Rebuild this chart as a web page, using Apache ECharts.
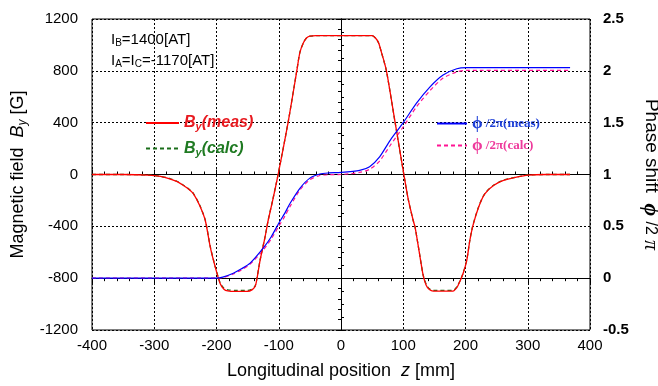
<!DOCTYPE html>
<html>
<head>
<meta charset="utf-8">
<script src="https://cdn.jsdelivr.net/npm/echarts@6/dist/echarts.min.js"></script>
<style>
  html, body { margin: 0; padding: 0; background: #fff; }
  #chart { width: 658px; height: 386px; }
</style>
</head>
<body>
<div id="chart"></div>
<script>
// field profile B_y [G] vs z [mm]
const zField = [-400, -350, -310, -290, -275, -263, -253, -245, -237, -227, -218, -210, -202, -194, -188, -182, -170, -150, -143, -138,
  -135, -130, -122, -117, -110, -101, -85, -71, -66, -60, -55, -50, -40, 50, 55, 60, 65, 73, 87, 101,
  108, 116, 119, 127, 132, 137, 142, 148, 180, 184, 188, 196, 202, 207, 212, 221, 231, 245, 261, 282, 300, 330, 368]
const byMeas = [0, 0, -5, -15, -33, -55, -85, -112, -149, -239, -355, -560, -714, -843, -885, -898, -902, -902, -890, -865,
  -804, -663, -483, -355, -205, 0, 400, 800, 943, 1020, 1055, 1068, 1072, 1072, 1055, 1020, 943, 800, 400, 0,
  -190, -355, -406, -637, -779, -856, -888, -900, -900, -885, -856, -766, -663, -509, -393, -252, -149, -85, -46, -21, -5, 0, 0]
const byCalc = [0, 0, -4, -14, -31, -54, -83, -110, -147, -236, -352, -556, -712, -838, -878, -890, -895, -895, -884, -860,
  -800, -660, -480, -352, -203, 2, 402, 802, 944, 1021, 1056, 1068, 1071, 1071, 1054, 1019, 941, 798, 398, -2,
  -192, -356, -407, -636, -776, -850, -882, -894, -894, -880, -852, -763, -660, -506, -390, -250, -147, -83, -44, -20, -4, 0, 0]

// phase shift phi/2pi
const zPhase = [-400, -200, -190, -173, -160, -146, -125, -112, -100, -90, -82, -66, -50, -34, -20, 0, 30, 46, 62, 79,
  100, 121, 143, 164, 186, 202, 368]
const phaseMeas = [0, 0, 0.01, 0.048, 0.09, 0.145, 0.29, 0.40, 0.53, 0.63, 0.72, 0.867, 0.965, 1.005, 1.015, 1.02, 1.04, 1.075, 1.17, 1.33,
  1.50, 1.686, 1.846, 1.96, 2.02, 2.03, 2.03]
const phaseCalc = [0, 0, 0.005, 0.04, 0.08, 0.135, 0.27, 0.38, 0.50, 0.60, 0.69, 0.85, 0.95, 0.99, 0.998, 1.0, 1.02, 1.05, 1.13, 1.28,
  1.46, 1.65, 1.81, 1.93, 1.99, 2.005, 2.005]

const FONT = 'Liberation Sans'
const pairs = (xs, ys) => xs.map((x, i) => [x, ys[i]])

const chart = echarts.init(document.getElementById('chart'))
const dotted = { color: '#000', type: [2, 2], width: 1, opacity: 1 }
const tickIn = (len) => ({ show: true, inside: true, length: len, lineStyle: { color: '#000', width: 1 } })

const option = {
  animation: false,
  grid: {
    left: 92, right: 68, top: 19, bottom: 56, show: true, borderColor: '#000', borderWidth: 1,
    containLabel: false, outerBoundsMode: 'none'
  },
  xAxis: [
    {
      type: 'value', min: -400, max: 400, interval: 100, position: 'bottom',
      axisLine: { show: true, lineStyle: { color: '#000', width: 1 } },
      axisTick: tickIn(5),
      minorTick: { show: true, splitNumber: 5, length: 3, lineStyle: { color: '#000' } },
      splitLine: { show: true, lineStyle: dotted },
      axisLabel: { color: '#000', fontFamily: FONT, fontSize: 15, margin: 8, formatter: (v) => String(v) },
      name: 'Longitudinal position  {i|z} [mm]',
      nameLocation: 'middle', nameGap: 32,
      nameTextStyle: { color: '#000', fontFamily: FONT, fontSize: 18, rich: { i: { fontStyle: 'italic', fontFamily: FONT, fontSize: 18 } } }
    },
    {
      type: 'value', min: -400, max: 400, interval: 100, position: 'top',
      axisLine: { show: true, lineStyle: { color: '#000' } },
      axisTick: tickIn(5),
      minorTick: { show: true, splitNumber: 5, length: 3, lineStyle: { color: '#000' } },
      splitLine: { show: false }, axisLabel: { show: false }
    }
  ],
  yAxis: [
    {
      type: 'value', min: -1200, max: 1200, interval: 400, position: 'left',
      axisLine: { show: true, lineStyle: { color: '#000' } },
      axisTick: tickIn(5),
      minorTick: { show: true, splitNumber: 4, length: 3, lineStyle: { color: '#000' } },
      splitLine: { show: true, lineStyle: dotted },
      axisLabel: { color: '#000', fontFamily: FONT, fontSize: 15, margin: 14, formatter: (v) => String(v) },
      name: 'Magnetic field  {i|B}{s|y} [G]',
      nameLocation: 'middle', nameGap: 52, nameRotate: 90,
      nameTextStyle: {
        color: '#000', fontFamily: FONT, fontSize: 18,
        rich: {
          i: { fontStyle: 'italic', fontFamily: FONT, fontSize: 18 },
          s: { fontStyle: 'italic', fontFamily: FONT, fontSize: 12, padding: [9, 0, 0, 0] }
        }
      }
    },
    {
      type: 'value', min: -0.5, max: 2.5, interval: 0.5, position: 'right',
      axisLine: { show: true, lineStyle: { color: '#000' } },
      axisTick: tickIn(5),
      minorTick: { show: true, splitNumber: 5, length: 3, lineStyle: { color: '#000' } },
      splitLine: { show: false },
      axisLabel: { color: '#000', fontFamily: FONT, fontSize: 15, fontWeight: 'bold', margin: 13 },
      name: 'Phase shift  {p|ϕ} {n|/2} {q|π}',
      nameLocation: 'middle', nameGap: 46, nameRotate: -90,
      nameTextStyle: {
        color: '#000', fontFamily: FONT, fontSize: 19,
        rich: {
          p: { fontFamily: 'Liberation Serif', fontStyle: 'italic', fontWeight: 'bold', fontSize: 22 },
          n: { fontFamily: FONT, fontSize: 16 },
          q: { fontFamily: 'Liberation Serif', fontStyle: 'italic', fontSize: 20 }
        }
      }
    }
  ],
  legend: [
    {
      data: ['By(meas)', 'By(calc)'],
      orient: 'vertical', left: 145, top: 115, padding: 0, itemWidth: 33, itemHeight: 14, itemGap: 8,
      itemStyle: { opacity: 0 },
      formatter: (n) => n === 'By(meas)' ? '{r|B}{rs|y}{r|(meas)}' : '{g|B}{gs|y}{g|(calc)}',
      textStyle: {
        rich: {
          r: { color: '#e8191f', fontFamily: FONT, fontStyle: 'italic', fontWeight: 'bold', fontSize: 16 },
          rs: { color: '#e8191f', fontFamily: FONT, fontStyle: 'italic', fontWeight: 'bold', fontSize: 11, padding: [8, 0, 0, 0] },
          g: { color: '#1f7a22', fontFamily: FONT, fontStyle: 'italic', fontWeight: 'bold', fontSize: 16 },
          gs: { color: '#1f7a22', fontFamily: FONT, fontStyle: 'italic', fontWeight: 'bold', fontSize: 11, padding: [8, 0, 0, 0] }
        }
      }
    },
    {
      data: ['phi/2pi(meas)', 'phi/2pi(calc)'],
      orient: 'vertical', left: 436, top: 115, padding: 0, itemWidth: 30, itemHeight: 14, itemGap: 5,
      itemStyle: { opacity: 0 },
      formatter: (n) => n === 'phi/2pi(meas)' ? '{bp|ϕ}{b| /2π(meas)}' : '{mp|ϕ}{m| /2π(calc)}',
      textStyle: {
        rich: {
          bp: { color: '#1c3ed8', fontFamily: 'Liberation Serif', fontWeight: 'bold', fontSize: 17 },
          b: { color: '#1c3ed8', fontFamily: 'Liberation Serif', fontWeight: 'bold', fontSize: 13 },
          mp: { color: '#ee3a9c', fontFamily: 'Liberation Serif', fontWeight: 'bold', fontSize: 17 },
          m: { color: '#ee3a9c', fontFamily: 'Liberation Serif', fontWeight: 'bold', fontSize: 13 }
        }
      }
    }
  ],
  graphic: [
    {
      type: 'text', left: 111, top: 32,
      style: {
        text: '{a|I}{s|B}{a|=1400[AT]}',
        rich: { a: { fontFamily: FONT, fontSize: 15, fill: '#000' }, s: { fontFamily: FONT, fontSize: 10, fill: '#000', padding: [7, 0, 0, 0] } }
      }
    },
    {
      type: 'text', left: 111, top: 53,
      style: {
        text: '{a|I}{s|A}{a|=I}{s|C}{a|=-1170[AT]}',
        rich: { a: { fontFamily: FONT, fontSize: 15, fill: '#000' }, s: { fontFamily: FONT, fontSize: 10, fill: '#000', padding: [7, 0, 0, 0] } }
      }
    }
  ],
  series: [
    {
      name: 'By(meas)', type: 'line', xAxisIndex: 0, yAxisIndex: 0, data: pairs(zField, byMeas),
      showSymbol: false, symbol: 'none', smooth: 0.25, z: 3,
      lineStyle: { color: '#ff0000', width: 1.3 }, itemStyle: { color: '#ff0000' }
    },
    {
      name: 'By(calc)', type: 'line', xAxisIndex: 0, yAxisIndex: 0, data: pairs(zField, byCalc),
      showSymbol: false, symbol: 'none', smooth: 0.25, z: 2,
      lineStyle: { color: '#1a6e1a', width: 1.3, type: [4, 3] }, itemStyle: { color: '#1a6e1a' }
    },
    {
      name: 'phi/2pi(meas)', type: 'line', xAxisIndex: 0, yAxisIndex: 1, data: pairs(zPhase, phaseMeas),
      showSymbol: false, symbol: 'none', smooth: 0.25, z: 3,
      lineStyle: { color: '#0000ff', width: 1.2 }, itemStyle: { color: '#0000ff' }
    },
    {
      name: 'phi/2pi(calc)', type: 'line', xAxisIndex: 0, yAxisIndex: 1, data: pairs(zPhase, phaseCalc),
      showSymbol: false, symbol: 'none', smooth: 0.25, z: 2,
      lineStyle: { color: '#ff1493', width: 1.2, type: [4, 3] }, itemStyle: { color: '#ff1493' }
    }
  ]
}
chart.setOption(option)
</script>
</body>
</html>
